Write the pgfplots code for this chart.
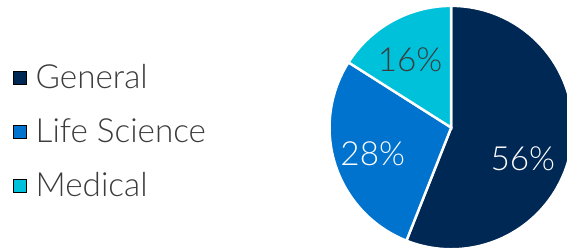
\documentclass[border=0pt]{standalone}
\usepackage{fontspec}
\setmainfont{Lato Light}
\usepackage{pgfplots}
\usepackage{pgfplotstable}
\pgfplotsset{compat=1.18}
\definecolor{cGeneral}{RGB}{0,40,85}
\definecolor{cLife}{RGB}{0,115,207}
\definecolor{cMedical}{RGB}{0,193,218}
\definecolor{textgray}{RGB}{60,60,60}
\pgfplotstableread{
name value
General 56
LifeScience 28
Medical 16
}\piedata
\begin{document}
\pgfplotstablegetelem{0}{value}\of\piedata \let\vA\pgfplotsretval
\pgfplotstablegetelem{1}{value}\of\piedata \let\vB\pgfplotsretval
\pgfplotstablegetelem{2}{value}\of\piedata \let\vC\pgfplotsretval
\pgfmathsetmacro\aA{90}
\pgfmathsetmacro\aB{\aA-3.6*\vA}
\pgfmathsetmacro\aC{\aB-3.6*\vB}
\pgfmathsetmacro\aD{\aC-3.6*\vC}
\begin{tikzpicture}
\begin{axis}[
  scale only axis, width=567bp, height=253bp,
  xmin=0, xmax=567, ymin=0, ymax=253, enlargelimits=false,
  axis lines=none, clip=true,
  legend image code/.code={\fill[#1] (0bp,-6.5bp) rectangle (13bp,6.5bp);},
  legend style={at={(axis cs:-1,119)}, anchor=west, draw=none, fill=none,
    font=\fontsize{34}{35}\selectfont, text=textgray, row sep=25bp,
    cells={anchor=west},
    /tikz/every odd column/.style={column sep=8bp}},
  legend cell align=left,
]
\addlegendimage{fill=cGeneral}
\addlegendentry{General}
\addlegendimage{fill=cLife}
\addlegendentry{Life Science}
\addlegendimage{fill=cMedical}
\addlegendentry{Medical}
\coordinate (bl) at (axis cs:0,0);
\coordinate (tr) at (axis cs:567,253);
\fill[cGeneral, draw=white, line width=2.5bp] (axis cs:449,123) -- ++(\aA:124bp) arc[start angle=\aA, end angle=\aB, radius=124bp] -- cycle;
\fill[cLife, draw=white, line width=2.5bp] (axis cs:449,123) -- ++(\aB:124bp) arc[start angle=\aB, end angle=\aC, radius=124bp] -- cycle;
\fill[cMedical, draw=white, line width=2.5bp] (axis cs:449,123) -- ++(\aC:124bp) arc[start angle=\aC, end angle=\aD, radius=124bp] -- cycle;
\node[font=\fontsize{34}{35}\selectfont, text=white] at (axis cs:522,91) {\vA\%};
\node[font=\fontsize{34}{35}\selectfont, text=white] at (axis cs:369,96) {\vB\%};
\node[font=\fontsize{34}{35}\selectfont, text=textgray] at (axis cs:407,192) {\vC\%};
\end{axis}
\pgfresetboundingbox
\path[use as bounding box] (bl) rectangle (tr);
\end{tikzpicture}
\end{document}
